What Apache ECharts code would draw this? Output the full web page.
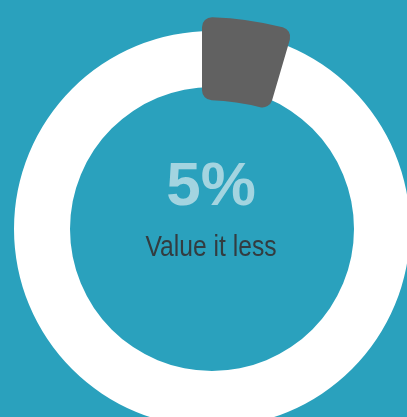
<!DOCTYPE html>
<html>
<head>
<meta charset="utf-8">
<script src="https://cdn.jsdelivr.net/npm/echarts@6/dist/echarts.min.js"></script>
<style>
html,body{margin:0;padding:0;background:#2aa1bd;}
#c{width:407px;height:417px;}
</style>
</head>
<body>
<div id="c"></div>
<script>
const percentValue = 5;
const restValue = 95;
const titleText = percentValue + '%';
const subText = 'Value it less';

const chart = echarts.init(document.getElementById('c'), null, {renderer: 'canvas'});
chart.setOption({
  backgroundColor: '#2aa1bd',
  animation: false,
  series: [
    {
      type: 'pie',
      silent: true,
      center: [212, 229],
      radius: [142, 198],
      label: {show: false},
      labelLine: {show: false},
      data: [{value: percentValue + restValue, itemStyle: {color: '#ffffff'}}]
    },
    {
      type: 'pie',
      silent: true,
      center: [202, 340],
      radius: [240, 323],
      startAngle: 90.85,
      padAngle: 1.7,
      clockwise: true,
      label: {show: false},
      labelLine: {show: false},
      data: [
        {value: percentValue, itemStyle: {color: '#616161', borderRadius: 10}},
        {value: restValue, itemStyle: {color: 'transparent'}}
      ]
    }
  ],
  graphic: [
    {
      type: 'text',
      x: 211, y: 188,
      style: {
        text: titleText,
        fill: '#a3d4e0',
        font: 'bold 62px "Liberation Sans", Arial, sans-serif',
        textAlign: 'center',
        textVerticalAlign: 'middle'
      }
    },
    {
      type: 'text',
      x: 211, y: 248,
      scaleX: 0.85,
      originX: 0, originY: 0,
      style: {
        text: subText,
        fill: '#333c40',
        font: '29px "Liberation Sans", Arial, sans-serif',
        textAlign: 'center',
        textVerticalAlign: 'middle'
      }
    }
  ]
});
</script>
</body>
</html>
